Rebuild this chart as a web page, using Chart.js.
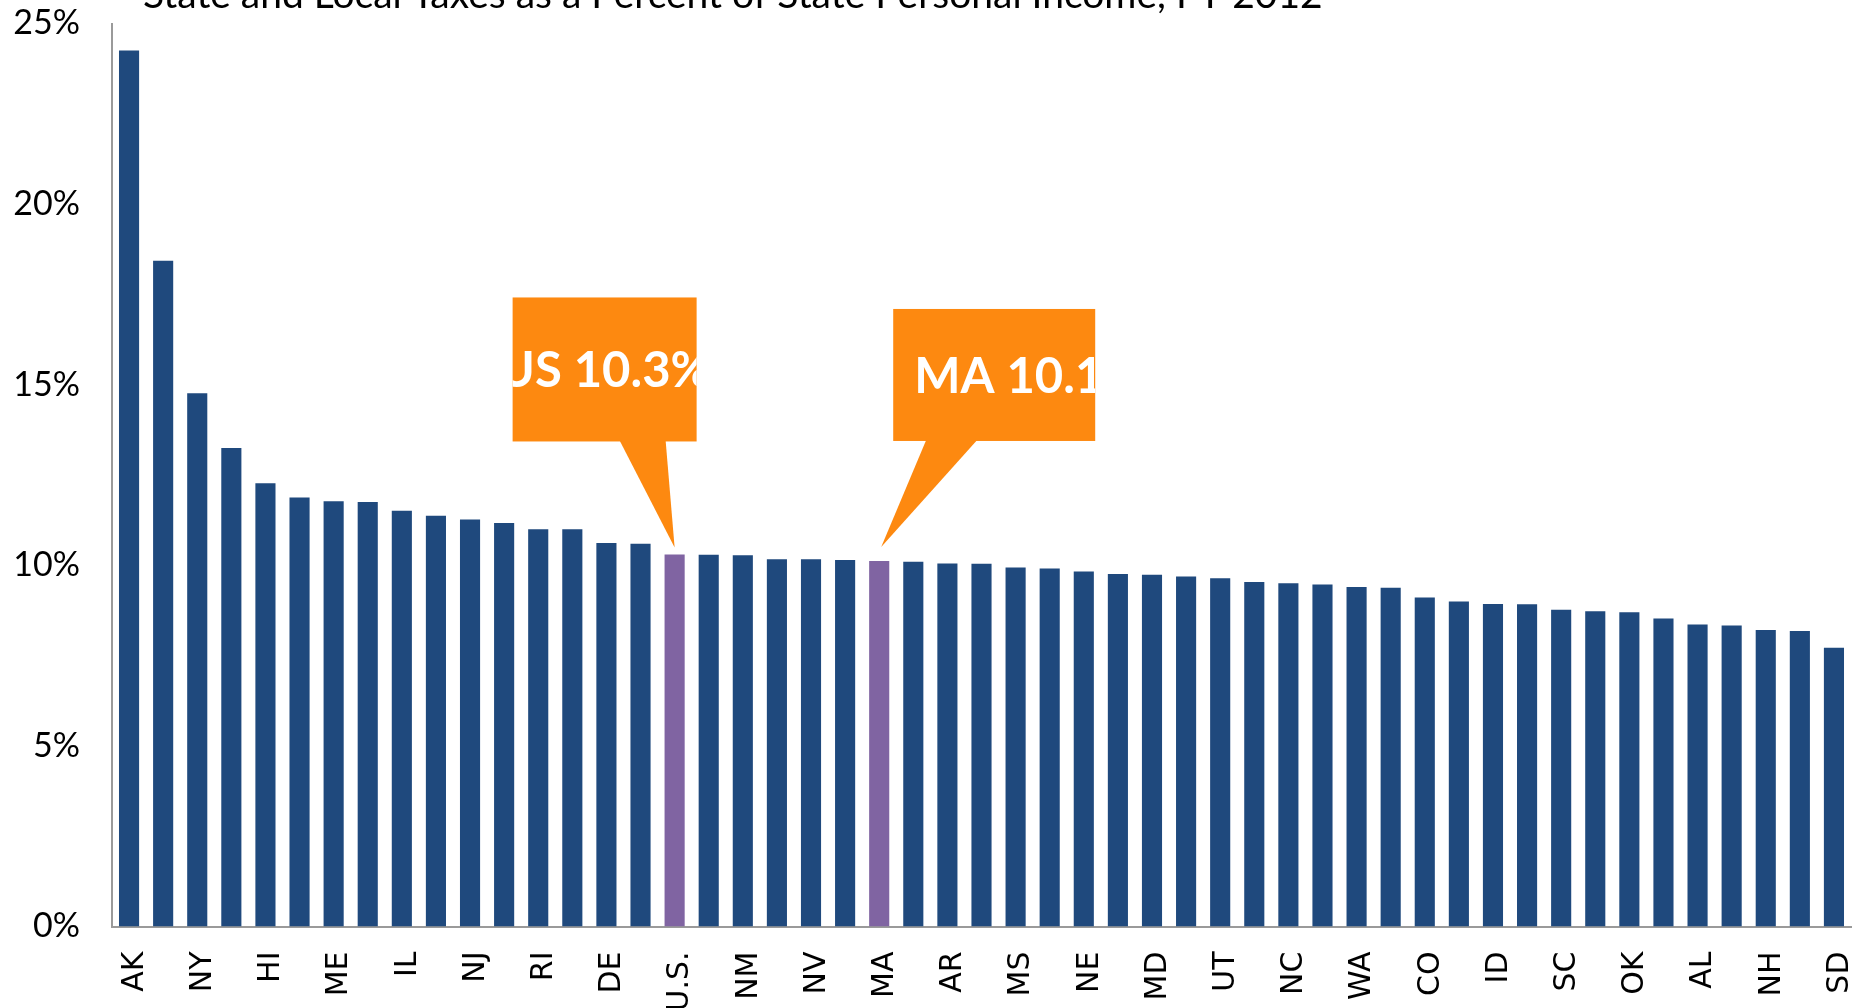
<!DOCTYPE html>
<html>
<head>
<meta charset="utf-8">
<script src="https://cdn.jsdelivr.net/npm/chart.js@4"></script>
<style>
  html, body { margin: 0; padding: 0; background: #fff; }
  canvas { display: block; }
</style>
</head>
<body>
<canvas id="taxes-chart" width="1866" height="1008"></canvas>
<script>
// States in rank order, U.S. average sits in among them
const states = ['AK','ND','NY','WY','HI','VT','ME','CT','IL','MN','NJ','CA','RI','WI','DE','WV',
  'U.S.','OH','NM','KS','NV','LA','MA','IA','AR','PA','MS','MI','NE','IN','MD','KY','UT','OR',
  'NC','FL','WA','MT','CO','AZ','ID','VA','SC','MO','OK','GA','AL','TX','NH','TN','SD']

// taxes as % of personal income
const taxPercent = [24.25, 18.43, 14.76, 13.25, 12.27, 11.88, 11.77, 11.75, 11.51, 11.37, 11.27, 11.17,
  11.00, 11.00, 10.62, 10.60, 10.30, 10.29, 10.28, 10.17, 10.17, 10.15, 10.12, 10.10, 10.05, 10.04,
  9.94, 9.91, 9.83, 9.76, 9.74, 9.69, 9.64, 9.54, 9.50, 9.47, 9.40, 9.38, 9.11, 9.00, 8.93, 8.92,
  8.77, 8.73, 8.70, 8.53, 8.36, 8.33, 8.21, 8.18, 7.72]

const highlighted = ['U.S.', 'MA']
const yTicks = [0, 5, 10, 15, 20, 25]

const titleText = 'State and Local Taxes as a Percent of State Personal Income, FY 2012'

// callouts: which bar, what it says
const callouts = [
  {state: 'U.S.', text: 'US 10.3%'},
  {state: 'MA', text: 'MA 10.1%'}
]

const blue = '#1F497D'
const purple = '#8064A2'
const orange = '#FD8910'

let barColors = states.map(s => highlighted.includes(s) ? purple : blue)

// draws the orange speech-bubble boxes and the clipped title
const annotationPlugin = {
  id: 'annotations',
  afterDatasetsDraw(chart) {
    let ctx = chart.ctx
    let x = chart.scales.x
    let y = chart.scales.y

    callouts.forEach(function(c) {
      let i = states.indexOf(c.state)
      let bx = x.getPixelForValue(i)
      let by = y.getPixelForValue(taxPercent[i])
      let box, base, tip
      if (c.state === 'U.S.') {
        tip = [bx, by - 7]
        box = {l: bx - 162, r: bx + 22, t: by - 257, b: by - 113}
        base = [bx - 55, bx - 9]
      } else {
        tip = [bx + 2, by - 14]
        box = {l: bx + 14, r: bx + 216, t: by - 252, b: by - 120}
        base = [bx + 47, bx + 98]
      }
      ctx.save()
      ctx.fillStyle = orange
      ctx.fillRect(box.l, box.t, box.r - box.l, box.b - box.t)
      ctx.beginPath()
      ctx.moveTo(base[0], box.b - 1)
      ctx.lineTo(tip[0], tip[1])
      ctx.lineTo(base[1], box.b - 1)
      ctx.closePath()
      ctx.fill()

      ctx.beginPath()
      ctx.rect(box.l, box.t, box.r - box.l, box.b - box.t)
      ctx.clip()
      ctx.fillStyle = '#fff'
      ctx.font = 'bold 49px Lato'
      ctx.textBaseline = 'alphabetic'
      let midY = (box.t + box.b) / 2 + 18
      if (c.state === 'U.S.') {
        ctx.textAlign = 'center'
        ctx.fillText(c.text, (box.l + box.r) / 2, midY)
      } else {
        ctx.textAlign = 'left'
        ctx.fillText(c.text, box.l + 21, midY)
      }
      ctx.restore()
    })

    // title sits mostly above the canvas, only its lower part shows
    ctx.save()
    ctx.fillStyle = '#000'
    ctx.font = '39px Lato'
    ctx.textAlign = 'left'
    ctx.textBaseline = 'alphabetic'
    ctx.fillText(titleText, 143, 8)
    ctx.restore()
  }
}

let ctx = document.querySelector('#taxes-chart').getContext('2d')

let taxesChart = new Chart(ctx, {
  type: 'bar',
  data: {
    labels: states,
    datasets: [{
      data: taxPercent,
      backgroundColor: barColors,
      borderWidth: 0,
      categoryPercentage: 1,
      barPercentage: 0.59
    }]
  },
  options: {
    responsive: false,
    animation: false,
    layout: {padding: {top: 23.5, right: 15, left: 0, bottom: 0}},
    plugins: {
      legend: {display: false},
      tooltip: {enabled: false},
      title: {display: false}
    },
    scales: {
      x: {
        grid: {display: false, drawTicks: false},
        border: {display: true, color: '#9a9a9a', width: 2},
        ticks: {
          autoSkip: false,
          minRotation: 90,
          maxRotation: 90,
          padding: 25,
          labelOffset: 6,
          color: '#000',
          font: {family: 'DejaVu Sans', size: 30},
          callback: function(val, index) {
            return index % 2 === 0 ? states[index] : ''
          }
        },
        afterFit: function(scale) {
          scale.height = 81.5
          scale.paddingLeft = 0
          scale.paddingRight = 0
        }
      },
      y: {
        min: 0,
        max: 25,
        grid: {display: false, drawTicks: false},
        border: {display: true, color: '#9a9a9a', width: 2},
        afterBuildTicks: function(scale) {
          scale.ticks = yTicks.map(v => ({value: v}))
        },
        ticks: {
          padding: 32,
          color: '#000',
          font: {family: 'Lato', size: 34},
          callback: function(val) { return val + '%' }
        },
        afterFit: function(scale) {
          scale.width = 112
          scale.paddingTop = 0
          scale.paddingBottom = 0
        }
      }
    }
  },
  plugins: [annotationPlugin]
})
</script>
</body>
</html>
